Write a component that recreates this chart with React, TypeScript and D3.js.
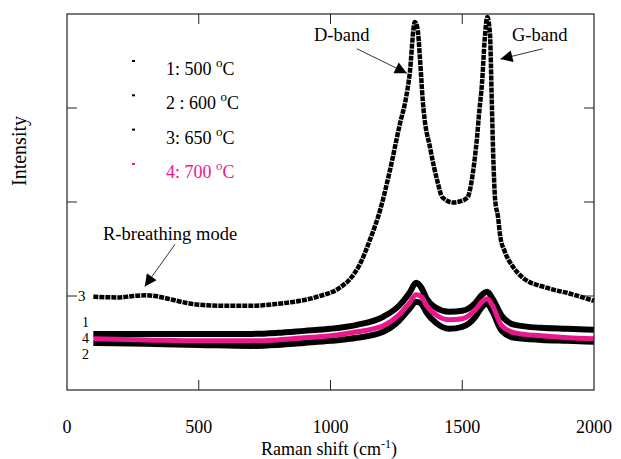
import { useMemo } from "react";
import * as d3 from "d3";

// Raman spectra (arbitrary intensity units)
const shift650 = [100, 200, 250, 300, 350, 400, 450, 500, 600, 700, 800, 885, 950, 1035, 1080, 1110, 1150, 1190, 1225, 1265, 1285, 1300, 1320, 1330, 1340, 1350, 1380, 1405, 1425, 1465, 1490, 1520, 1540, 1555, 1565, 1575, 1585, 1595, 1605, 1612, 1617, 1625, 1635, 1645, 1660, 1695, 1730, 1820, 1910, 2000];
const intensity650 = [0.992, 0.985, 1.0, 1.008, 0.992, 0.960, 0.928, 0.907, 0.896, 0.896, 0.917, 0.949, 0.992, 1.088, 1.2, 1.33, 1.6, 1.93, 2.33, 2.85, 3.083, 3.35, 3.915, 3.85, 3.509, 3.083, 2.549, 2.229, 2.048, 1.995, 2.005, 2.048, 2.304, 2.656, 2.976, 3.264, 3.723, 3.968, 3.797, 3.083, 2.549, 2.016, 1.856, 1.62, 1.483, 1.301, 1.195, 1.088, 1.024, 0.949];

const shiftLow = [100, 300, 500, 700, 800, 900, 1000, 1100, 1200, 1260, 1300, 1325, 1345, 1365, 1400, 1450, 1500, 1550, 1575, 1595, 1615, 1650, 1700, 1800, 1900, 2000];
const intensity500 = [0.597, 0.597, 0.597, 0.597, 0.608, 0.629, 0.651, 0.693, 0.779, 0.896, 1.035, 1.141, 1.088, 0.971, 0.875, 0.832, 0.843, 0.928, 1.013, 1.045, 0.971, 0.789, 0.693, 0.661, 0.651, 0.640];
const intensity600 = [0.501, 0.491, 0.480, 0.469, 0.480, 0.501, 0.523, 0.555, 0.619, 0.736, 0.864, 0.939, 0.917, 0.821, 0.715, 0.651, 0.672, 0.779, 0.885, 0.917, 0.832, 0.629, 0.555, 0.533, 0.523, 0.512];
const intensity700 = [0.544, 0.533, 0.523, 0.523, 0.533, 0.555, 0.576, 0.619, 0.683, 0.800, 0.928, 1.013, 0.992, 0.896, 0.800, 0.747, 0.757, 0.853, 0.939, 0.971, 0.896, 0.683, 0.608, 0.576, 0.555, 0.544];

const legendNums = ["1: 500 ", "2 : 600 ", "3: 650 ", "4: 700 "];
const curveLabels = ["1", "4", "2"];
const xTicks = [0, 500, 1000, 1500, 2000];
const yTicks = [1, 2, 3];

const pink = "#e9168c";
const font = "'Liberation Serif', 'Times New Roman', serif";

export default function App() {
  const margin = { top: 14, left: 67, right: 27, bottom: 69 };
  const W = 621, H = 459;
  const width = W - margin.left - margin.right;
  const height = H - margin.top - margin.bottom;

  const x = d3.scaleLinear().domain([0, 2000]).range([0, width]);
  const y = d3.scaleLinear().domain([0, 4]).range([height, 0]);

  const line = d3.line<[number, number]>()
    .x(d => x(d[0]))
    .y(d => y(d[1]))
    .curve(d3.curveMonotoneX);

  const paths = useMemo(() => ({
    c650: line(d3.zip(shift650, intensity650) as [number, number][]),
    c500: line(d3.zip(shiftLow, intensity500) as [number, number][]),
    c600: line(d3.zip(shiftLow, intensity600) as [number, number][]),
    c700: line(d3.zip(shiftLow, intensity700) as [number, number][]),
  }), []);

  const tickLen = 10;

  return (
    <svg width={W} height={H} style={{ position: "absolute", left: 0, top: 0 }} fontFamily={font}>
      <defs>
        <marker id="arrow" viewBox="0 0 10 10" refX="10" refY="5" markerWidth="15" markerHeight="12" markerUnits="userSpaceOnUse" orient="auto">
          <path d="M0,0 L10,5 L0,10 Z" fill="#000" />
        </marker>
      </defs>
      <g transform={`translate(${margin.left},${margin.top})`}>
        {/* spectra */}
        <g fill="none" strokeLinejoin="round">
          <path d={paths.c650!} stroke="#000" strokeWidth={4.5} strokeDasharray="5 1" />
          <path d={paths.c500!} stroke="#000" strokeWidth={6} />
          <path d={paths.c600!} stroke="#000" strokeWidth={6} />
          <path d={paths.c700!} stroke={pink} strokeWidth={5} />
        </g>

        {/* frame */}
        <rect x={0} y={0} width={width} height={height} fill="none" stroke="#222" strokeWidth={1.2} />
        {xTicks.slice(1, -1).map(t => (
          <g key={t} stroke="#222">
            <line x1={x(t)} x2={x(t)} y1={height} y2={height - tickLen} />
            <line x1={x(t)} x2={x(t)} y1={0} y2={tickLen} />
          </g>
        ))}
        {yTicks.map(t => (
          <g key={t} stroke="#222">
            <line x1={0} x2={tickLen} y1={y(t)} y2={y(t)} />
            <line x1={width} x2={width - tickLen} y1={y(t)} y2={y(t)} />
          </g>
        ))}
        {xTicks.map(t => (
          <text key={t} x={x(t)} y={height + 43} textAnchor="middle" fontSize={18}>{t}</text>
        ))}

        {/* curve numbers */}
        <text x={11} y={y(1) + 5} fontSize={15}>3</text>
        {curveLabels.map((c, i) => (
          <text key={c} x={15} y={313 + i * 16} fontSize={14}>{c}</text>
        ))}

        {/* legend */}
        {legendNums.map((t, i) => {
          const by = 61 + i * 34.3;
          const col = i === 3 ? pink : "#000";
          return (
            <g key={t}>
              <rect x={65} y={by - 15} width={3} height={2} fill={col} />
              <text x={99} y={by} fontSize={18} fill={col}>
                {t}<tspan dy={-8} fontSize={13}>o</tspan><tspan dy={8}>C</tspan>
              </text>
            </g>
          );
        })}

        {/* annotations */}
        <text x={247} y={27} fontSize={18.5}>D-band</text>
        <line x1={x(1100)} y1={y(3.63)} x2={x(1290)} y2={y(3.37)} stroke="#000" strokeWidth={0.8} markerEnd="url(#arrow)" />
        <text x={445} y={27} fontSize={18.5}>G-band</text>
        <line x1={x(1805)} y1={y(3.63)} x2={x(1645)} y2={y(3.52)} stroke="#000" strokeWidth={0.8} markerEnd="url(#arrow)" />
        <text x={36} y={226} fontSize={18.5}>R-breathing mode</text>
        <line x1={x(410)} y1={y(1.55)} x2={x(295)} y2={y(1.1)} stroke="#000" strokeWidth={0.8} markerEnd="url(#arrow)" />
      </g>

      <text transform={`translate(26,151) rotate(-90)`} textAnchor="middle" fontSize={20}>Intensity</text>
      <text x={329} y={455} textAnchor="middle" fontSize={18}>
        Raman shift (cm<tspan dy={-7} fontSize={12}>-1</tspan><tspan dy={7}>)</tspan>
      </text>
    </svg>
  );
}
